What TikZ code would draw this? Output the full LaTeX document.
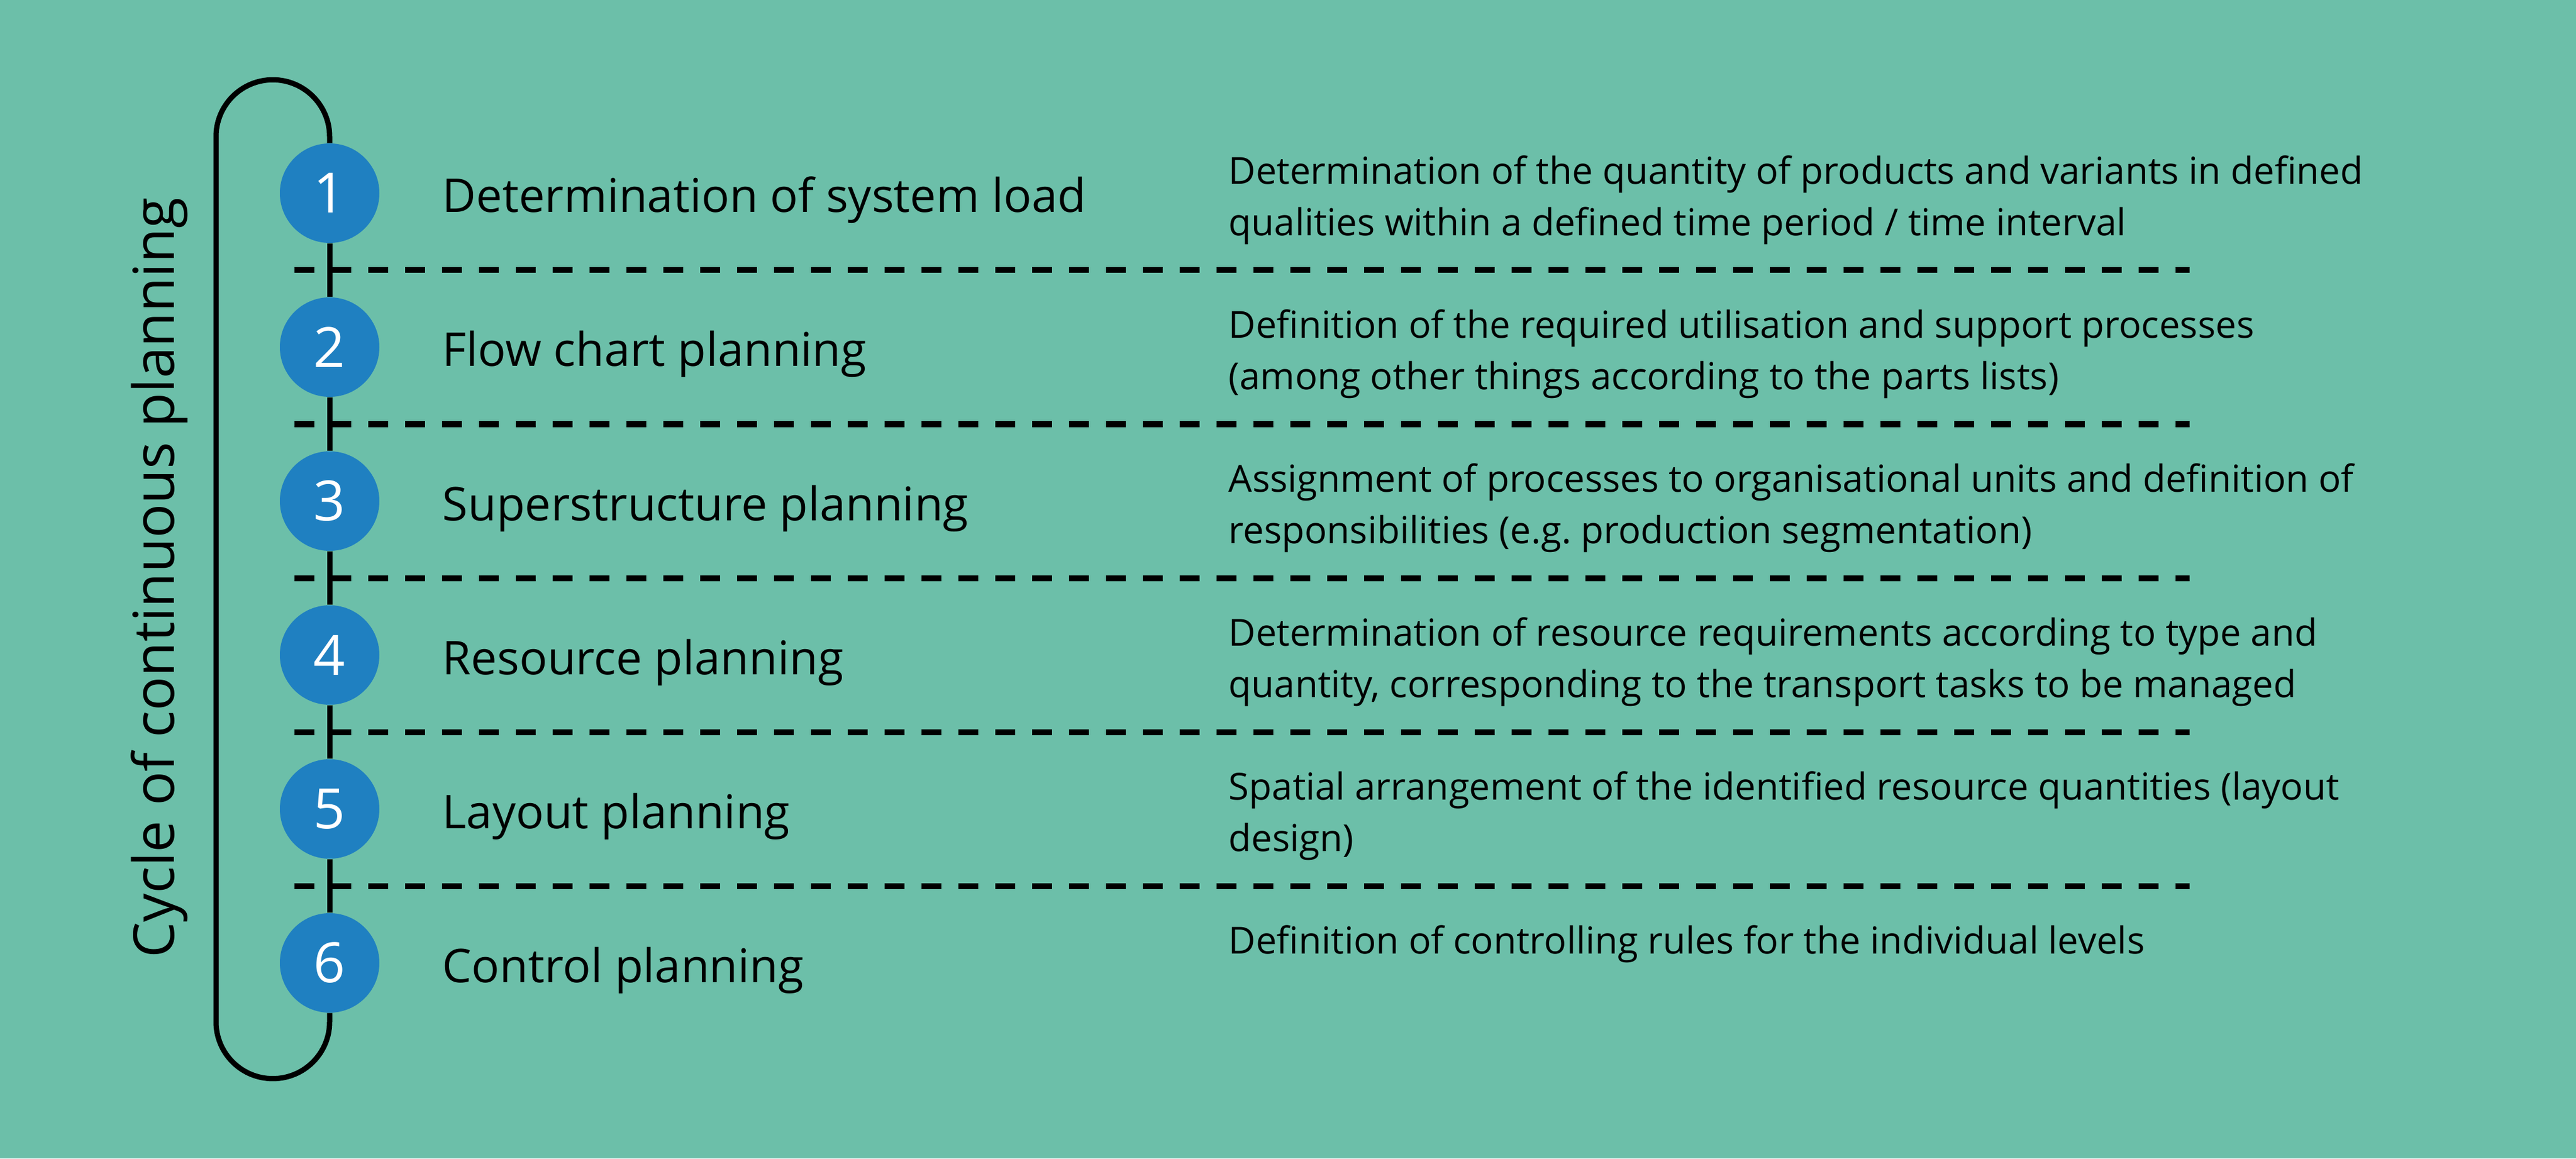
\documentclass[tikz,border=0pt]{standalone}
\usepackage{fontspec}
\setmainfont{Open Sans}
\definecolor{bgteal}{RGB}{108,191,169}
\definecolor{stepblue}{RGB}{31,128,193}
\tikzset{
  stepcircle/.style={circle,fill=stepblue,minimum size=1.7cm,inner sep=0pt,text=white,font=\fontsize{27}{32}\selectfont},
  steptitle/.style={anchor=base west,inner sep=0pt,font=\fontsize{22.6}{27}\selectfont},
  stepdesc/.style={anchor=north west,inner sep=0pt,align=left,font=\fontsize{18.1}{25}\selectfont},
  cycleline/.style={line width=0.09cm},
  sepline/.style={line width=0.1cm,dash pattern=on 0.34cm off 0.29cm}
}
\begin{document}
\frenchspacing
\begin{tikzpicture}
\fill[bgteal] (0,0) rectangle (44,19.79);
\useasboundingbox (0,0) rectangle (44,19.79);
% steps
\foreach \n/\title in {1/Determination of system load,2/Flow chart planning,3/Superstructure planning,4/Resource planning,5/Layout planning,6/Control planning}{
  \node[stepcircle] (c\n) at (5.63,{16.49-2.63*(\n-1)}) {\n};
  \node[steptitle] (t\n) at ([shift={(1.92,-0.33)}]c\n.center) {\title};
}
% descriptions
\node[stepdesc] (d1) at ([shift={(15.35,0.65)}]c1.center) {Determination of the quantity of products and variants in defined\\qualities within a defined time period / time interval};
\node[stepdesc] (d2) at ([shift={(15.35,0.65)}]c2.center) {Definition of the required utilisation and support processes\\(among other things according to the parts lists)};
\node[stepdesc] (d3) at ([shift={(15.35,0.65)}]c3.center) {Assignment of processes to organisational units and definition of\\responsibilities (e.g. production segmentation)};
\node[stepdesc] (d4) at ([shift={(15.35,0.65)}]c4.center) {Determination of resource requirements according to type and\\quantity, corresponding to the transport tasks to be managed};
\node[stepdesc] (d5) at ([shift={(15.35,0.65)}]c5.center) {Spatial arrangement of the identified resource quantities (layout\\design)};
\node[stepdesc] (d6) at ([shift={(15.35,0.65)}]c6.center) {Definition of controlling rules for the individual levels};
% cycle
\node[rotate=90,inner sep=0pt,font=\fontsize{27.5}{33}\selectfont] (cycle) at (2.72,9.92) {Cycle of continuous planning};
\foreach \i/\j in {1/2,2/3,3/4,4/5,5/6}
  \draw[cycleline] (c\i) -- (c\j);
\draw[cycleline] (c1.north) -- ++(0,0.11) arc[start angle=0,end angle=180,radius=0.97]
  -- ([shift={(-1.94,-0.15)}]c6.south) arc[start angle=180,end angle=360,radius=0.97] -- (c6.south);
% separators
\foreach \i in {1,...,5}
  \draw[sepline] ([shift={(-0.6,-1.315)}]c\i.center) -- ++(32.37,0);
\end{tikzpicture}
\end{document}
